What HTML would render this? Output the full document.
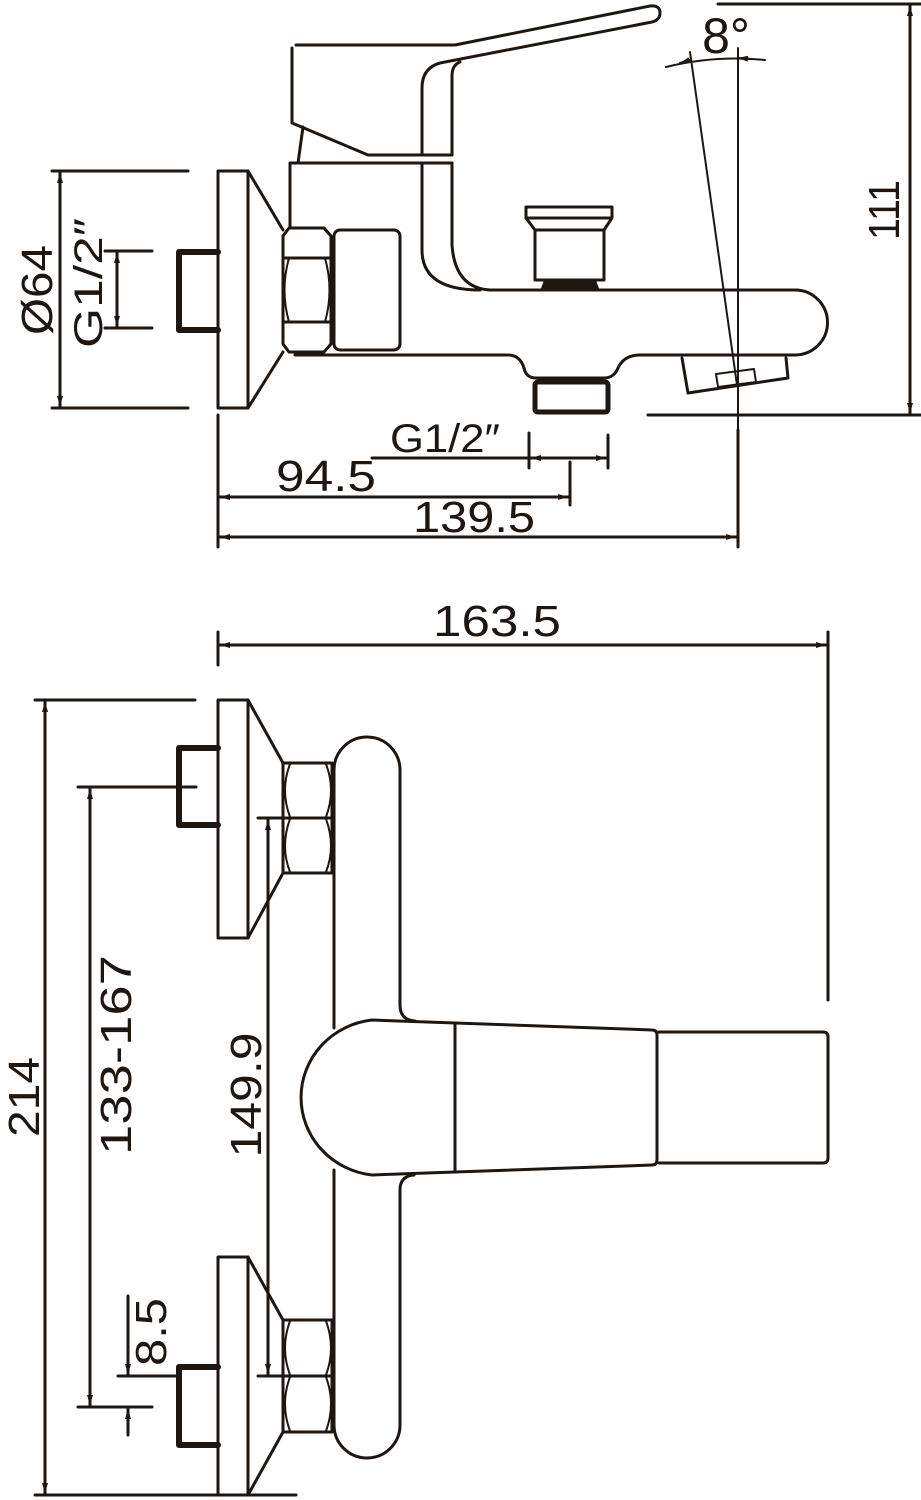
<!DOCTYPE html>
<html><head><meta charset="utf-8"><style>html,body{margin:0;padding:0;background:#fff}svg{display:block}</style></head>
<body>
<svg width="921" height="1500" viewBox="0 0 921 1500" xmlns="http://www.w3.org/2000/svg">
<defs>
<marker id="a" viewBox="0 0 10 6" refX="10" refY="3" markerWidth="10" markerHeight="6" markerUnits="userSpaceOnUse" orient="auto-start-reverse"><path d="M0,0 L10,3 L0,6 z" fill="#1e1610"/></marker>
</defs>
<g fill="none" stroke="#1e1610" stroke-width="3" stroke-linejoin="round" stroke-linecap="round">
<line x1="52" y1="171" x2="188" y2="171"/>
<line x1="52" y1="408" x2="188" y2="408"/>
<line x1="60" y1="173" x2="60" y2="406" marker-start="url(#a)" marker-end="url(#a)"/>
<line x1="105" y1="251" x2="152" y2="251"/>
<line x1="105" y1="328" x2="152" y2="328"/>
<line x1="117" y1="253" x2="117" y2="326" marker-start="url(#a)" marker-end="url(#a)"/>
<rect x="218" y="171" width="30" height="237"/>
<path d="M248,171 L283,230 M283,352 L248,408"/>
<path d="M218,252 L179,252 L179,330 L218,330" stroke-width="6"/>
<path d="M289,228 L324,228 L331,236 L331,344 L324,352 L289,352 L283,344 L283,236 Z"/>
<path d="M283,258 L331,258 M283,322 L331,322"/>
<path d="M289,258 Q280,290 289,322 M325,258 Q334,290 325,322" stroke-width="2"/>
<rect x="334" y="230" width="66" height="120" rx="6"/>
<path d="M290,228 L290,163 L452,163"/>
<path d="M295,355 L508,355 Q520,355 524,368 Q526,378 536,378 L604,378 Q614,378 618,368 Q624,355 640,355 L795,355 A32,32 0 0 0 795,290 L490,290"/>
<path d="M422,163 L422,250 Q422,290 480,290 M452,163 L452,245 Q455,288 490,290"/>
<path d="M296,45 L455,45 L650,6 Q660,5 660,13 Q660,20 652,22 L440,63 Q422,68 422,88 L422,155 M452,155 L452,76 Q452,65 460,62"/>
<path d="M292,48 L292,123 L368,155 L452,155"/>
<path d="M303,127 L298,163"/>
<path d="M526,207 L612,207 L612,218 L604,230 L604,280 L535,280 L535,230 L526,218 Z M526,218 L612,218 M535,230 L604,230"/>
<path d="M545,282 L595,282 L598,290 L542,290 Z" fill="#1e1610"/>
<rect x="535" y="382" width="73" height="30" stroke-width="5" rx="3"/>
<path d="M682,358 L688,393 L788,378 L786,358"/>
<path d="M716,374 L754,369 L756,382 L718,387 Z" stroke-width="2"/>
<line x1="690" y1="52" x2="737" y2="385" stroke-width="2"/>
<line x1="738" y1="48" x2="738" y2="430" stroke-width="2"/>
<path d="M666,67 Q715,55 765,60" stroke-width="2"/>
<line x1="680" y1="63" x2="690" y2="60" stroke-width="2" marker-start="url(#a)"/>
<line x1="752" y1="59" x2="738" y2="58" stroke-width="2" marker-end="url(#a)"/>
<line x1="718" y1="4" x2="921" y2="4"/>
<line x1="648" y1="415" x2="921" y2="415"/>
<line x1="910" y1="6" x2="910" y2="413" marker-start="url(#a)" marker-end="url(#a)"/>
<line x1="218" y1="415" x2="218" y2="547"/>
<line x1="738" y1="430" x2="738" y2="547"/>
<line x1="220" y1="537" x2="736" y2="537" marker-start="url(#a)" marker-end="url(#a)"/>
<line x1="570" y1="462" x2="570" y2="505"/>
<line x1="220" y1="497" x2="568" y2="497" marker-start="url(#a)" marker-end="url(#a)"/>
<line x1="529" y1="433" x2="529" y2="468"/>
<line x1="608" y1="435" x2="608" y2="468"/>
<line x1="372" y1="458" x2="529" y2="458"/>
<line x1="531" y1="458" x2="606" y2="458" marker-start="url(#a)" marker-end="url(#a)"/>

<line x1="218" y1="632" x2="218" y2="665"/>
<line x1="828" y1="632" x2="828" y2="1000"/>
<line x1="220" y1="645" x2="826" y2="645" marker-start="url(#a)" marker-end="url(#a)"/>
<line x1="35" y1="700" x2="195" y2="700"/>
<line x1="35" y1="1495" x2="296" y2="1495"/>
<line x1="45" y1="702" x2="45" y2="1493" marker-start="url(#a)" marker-end="url(#a)"/>
<line x1="78" y1="787" x2="196" y2="787"/>
<line x1="78" y1="1407" x2="152" y2="1407"/>
<line x1="90" y1="789" x2="90" y2="1405" marker-start="url(#a)" marker-end="url(#a)"/>
<line x1="258" y1="818" x2="282" y2="818"/>
<line x1="258" y1="1376" x2="282" y2="1376"/>
<line x1="268" y1="820" x2="268" y2="1374" marker-start="url(#a)" marker-end="url(#a)"/>
<line x1="118" y1="1376" x2="176" y2="1376"/>
<line x1="128" y1="1296" x2="128" y2="1374" marker-end="url(#a)"/>
<line x1="128" y1="1435" x2="128" y2="1409" marker-end="url(#a)"/>
<rect x="218" y="700" width="30" height="238"/>
<path d="M248,700 L283,763 M283,873 L248,938"/>
<path d="M218,748 L179,748 L179,825 L218,825" stroke-width="6"/>
<path d="M283,763 L332,763 L332,873 L283,873 Z M283,818 L332,818"/>
<path d="M290,764 Q280,790 290,817 M326,764 Q336,790 326,817 M290,819 Q280,846 290,872 M326,819 Q336,846 326,872" stroke-width="2"/>
<rect x="218" y="1257" width="30" height="238"/>
<path d="M248,1257 L283,1320 M283,1432 L248,1495"/>
<path d="M218,1367 L179,1367 L179,1445 L218,1445" stroke-width="6"/>
<path d="M283,1320 L332,1320 L332,1432 L283,1432 Z M283,1376 L332,1376"/>
<path d="M290,1321 Q280,1348 290,1375 M326,1321 Q336,1348 326,1375 M290,1377 Q280,1404 290,1431 M326,1377 Q336,1404 326,1431" stroke-width="2"/>
<path d="M334,1028 L334,770 A33,33 0 0 1 400,770 L400,1005 Q400,1020 415,1021"/>
<path d="M334,1170 L334,1425 A33,33 0 0 0 400,1425 L400,1190 Q400,1176 414,1175"/>
<path d="M372,1020 L455,1023 L652,1030 Q657,1030 657,1035 L657,1160 Q657,1165 652,1165 L455,1172 L372,1175 A80,78 0 0 1 372,1020 Z"/>
<line x1="455" y1="1023" x2="455" y2="1172"/>
<path d="M659,1032 L823,1032 Q828,1032 828,1037 L828,1158 Q828,1163 823,1163 L659,1163"/>
</g>
<g fill="#1e1610" font-family="Liberation Sans, sans-serif" font-size="44">
<text x="497" y="636" text-anchor="middle" textLength="128" lengthAdjust="spacingAndGlyphs">163.5</text>
<text x="474" y="532" text-anchor="middle" textLength="122" lengthAdjust="spacingAndGlyphs">139.5</text>
<text x="326" y="491" text-anchor="middle" textLength="100" lengthAdjust="spacingAndGlyphs">94.5</text>
<text x="445" y="452" text-anchor="middle" font-size="40" textLength="110" lengthAdjust="spacingAndGlyphs">G1/2″</text>
<text x="726" y="53" text-anchor="middle" font-size="50">8°</text>
<text transform="translate(899,210) rotate(-90)" text-anchor="middle" textLength="60" lengthAdjust="spacingAndGlyphs">111</text>
<text transform="translate(52,290) rotate(-90)" text-anchor="middle" textLength="90" lengthAdjust="spacingAndGlyphs">Ø64</text>
<text transform="translate(102,283) rotate(-90)" text-anchor="middle" font-size="40" textLength="130" lengthAdjust="spacingAndGlyphs">G1/2″</text>
<text transform="translate(39,1097) rotate(-90)" text-anchor="middle" textLength="80" lengthAdjust="spacingAndGlyphs">214</text>
<text transform="translate(131,1055) rotate(-90)" text-anchor="middle" textLength="200" lengthAdjust="spacingAndGlyphs">133-167</text>
<text transform="translate(261,1095) rotate(-90)" text-anchor="middle" textLength="125" lengthAdjust="spacingAndGlyphs">149.9</text>
<text transform="translate(166,1332) rotate(-90)" text-anchor="middle" textLength="68" lengthAdjust="spacingAndGlyphs">8.5</text>
</g>
</svg>
</body></html>
